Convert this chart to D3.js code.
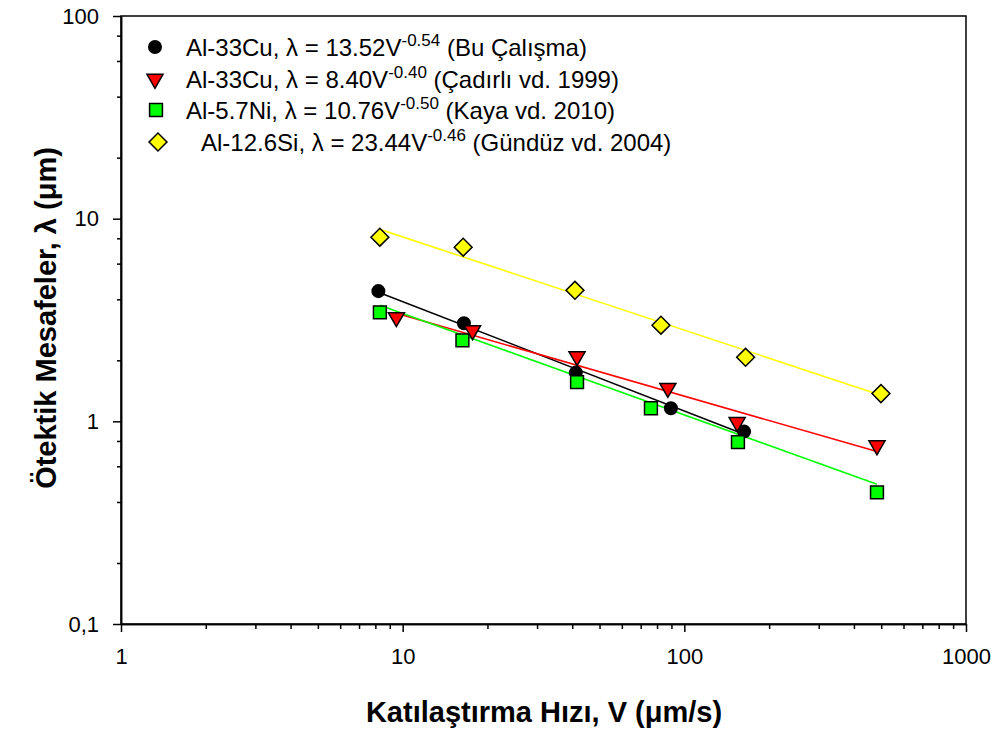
<!DOCTYPE html>
<html>
<head>
<meta charset="utf-8">
<script src="https://d3js.org/d3.v7.min.js"></script>
<style>
  body { margin: 0; background: #fff; }
  svg text { font-family: "Liberation Sans", Arial, sans-serif; fill: #000; }
</style>
</head>
<body>
<svg id="chart" width="994" height="731"></svg>
<script>
// data
const velBu = [8.2, 16.5, 41.2, 89.6, 163];
const lamBu = [4.39, 3.05, 1.74, 1.16, 0.89];
const velCad = [9.5, 17.7, 41.6, 87.4, 154, 483];
const lamCad = [3.26, 2.81, 2.09, 1.46, 0.99, 0.76];
const velKaya = [8.3, 16.3, 41.6, 76.1, 155, 483];
const lamKaya = [3.45, 2.51, 1.56, 1.16, 0.79, 0.446];
const velGun = [8.3, 16.4, 40.9, 82.6, 165, 499];
const lamGun = [8.1, 7.23, 4.43, 2.98, 2.07, 1.37];

// fit coefficients from the legend: lambda = k * V^n
const fitK = [13.52, 8.40, 10.76, 23.44];
const fitN = [-0.54, -0.40, -0.50, -0.46];

const legendMain = ["Al-33Cu, \u03bb = 13.52V", "Al-33Cu, \u03bb = 8.40V", "Al-5.7Ni, \u03bb = 10.76V", "Al-12.6Si, \u03bb = 23.44V"];
const legendExp = ["-0.54", "-0.40", "-0.50", "-0.46"];
const legendRef = [" (Bu \u00c7al\u0131\u015fma)", " (\u00c7ad\u0131rl\u0131 vd. 1999)", " (Kaya vd. 2010)", " (G\u00fcnd\u00fcz vd. 2004)"];

const xTicks = [1, 10, 100, 1000];
const xTickLabels = ["1", "10", "100", "1000"];
const yTicks = [0.1, 1, 10, 100];
const yTickLabels = ["0,1", "1", "10", "100"];

const series = [
  { v: velBu, l: lamBu, color: "#000000", shape: "circle" },
  { v: velCad, l: lamCad, color: "#ff0000", shape: "triangle" },
  { v: velKaya, l: lamKaya, color: "#00ff00", shape: "square" },
  { v: velGun, l: lamGun, color: "#ffff00", shape: "diamond" }
];

let svg = d3.select("#chart");

let x = d3.scaleLog().domain([1, 1000]).range([121, 966]);
let y = d3.scaleLog().domain([0.1, 100]).range([624, 16]);

// minor ticks
let xMinor = [];
let yMinor = [];
[1, 10, 100].forEach(b => { for (let i = 2; i <= 9; i++) xMinor.push(b * i); });
[0.1, 1, 10].forEach(b => { [2, 4, 6, 8].forEach(i => yMinor.push(b * i)); });

let bottomAxis = d3.axisBottom(x).tickValues(xTicks).tickFormat((d, i) => xTickLabels[i])
  .tickSizeInner(8).tickSizeOuter(0).tickPadding(16);
let bottomMinor = d3.axisBottom(x).tickValues(xMinor).tickFormat("").tickSizeInner(5).tickSizeOuter(0);
let leftAxis = d3.axisLeft(y).tickValues(yTicks).tickFormat((d, i) => yTickLabels[i])
  .tickSizeInner(8).tickSizeOuter(0).tickPadding(14);
let leftMinor = d3.axisLeft(y).tickValues(yMinor).tickFormat("").tickSizeInner(4).tickSizeOuter(0);

// frame (top and right)
svg.append("rect")
  .attr("x", x(1)).attr("y", y(100))
  .attr("width", x(1000) - x(1)).attr("height", y(0.1) - y(100))
  .attr("fill", "none").attr("stroke", "#000").attr("stroke-width", 1.5);

function styleAxis(g) {
  g.selectAll("path, line").attr("stroke", "#000").attr("stroke-width", 1.5);
  g.selectAll("text").style("font-size", "22px").attr("fill", "#000");
}

svg.append("g").attr("transform", `translate(0,${y(0.1)})`).call(bottomMinor).call(styleAxis);
svg.append("g").attr("transform", `translate(0,${y(0.1)})`).call(bottomAxis).call(styleAxis);
svg.append("g").attr("transform", `translate(${x(1)},0)`).call(leftMinor).call(styleAxis);
svg.append("g").attr("transform", `translate(${x(1)},0)`).call(leftAxis).call(styleAxis);

// fit lines
series.forEach((s, i) => {
  let ext = d3.extent(s.v);
  let pts = ext.map(v => [v, fitK[i] * Math.pow(v, fitN[i])]);
  svg.append("path")
    .datum(pts)
    .attr("fill", "none")
    .attr("stroke", s.color)
    .attr("stroke-width", 1.6)
    .attr("d", d3.line().x(d => x(d[0])).y(d => y(d[1])));
});

function markerPath(shape) {
  if (shape === "circle") return d3.symbol(d3.symbolCircle, 154)();
  if (shape === "triangle") return d3.symbol(d3.symbolTriangle, 112)();
  if (shape === "square") return d3.symbol(d3.symbolSquare, 165)();
  return d3.symbol(d3.symbolSquare, 160)();
}
function markerRot(shape) {
  if (shape === "triangle") return " rotate(180)";
  if (shape === "diamond") return " rotate(45)";
  return "";
}

// data markers
series.forEach(s => {
  let pts = s.v.map((v, j) => [v, s.l[j]]);
  svg.append("g").selectAll("path").data(pts).join("path")
    .attr("d", markerPath(s.shape))
    .attr("transform", d => `translate(${x(d[0])},${y(d[1])})` + markerRot(s.shape))
    .attr("fill", s.color)
    .attr("stroke", "#000")
    .attr("stroke-width", s.shape === "circle" ? 0 : 1.5);
});

// legend
const legY = [47, 79, 110, 142];
const legMarkX = [155, 155, 156, 158];
const legTextX = [186, 186, 186, 201];
let legend = svg.append("g");
series.forEach((s, i) => {
  legend.append("path")
    .attr("d", markerPath(s.shape))
    .attr("transform", `translate(${legMarkX[i]},${legY[i]})` + markerRot(s.shape))
    .attr("fill", s.color)
    .attr("stroke", "#000")
    .attr("stroke-width", s.shape === "circle" ? 0 : 1.5);
  let t = legend.append("text")
    .attr("x", legTextX[i]).attr("y", legY[i] + 9)
    .style("font-size", "24px");
  t.append("tspan").text(legendMain[i]);
  t.append("tspan").attr("dy", -10).style("font-size", "17px").text(legendExp[i]);
  t.append("tspan").attr("dy", 10).text(legendRef[i]);
});

// axis titles
svg.append("text")
  .attr("x", 544).attr("y", 722)
  .attr("text-anchor", "middle")
  .style("font-size", "29px").style("font-weight", "bold")
  .text("Kat\u0131la\u015ft\u0131rma H\u0131z\u0131, V (\u03bcm/s)");

svg.append("text")
  .attr("transform", "translate(56,318) rotate(-90)")
  .attr("text-anchor", "middle")
  .style("font-size", "29px").style("font-weight", "bold")
  .text("\u00d6tektik Mesafeler, \u03bb (\u03bcm)");
</script>
</body>
</html>
